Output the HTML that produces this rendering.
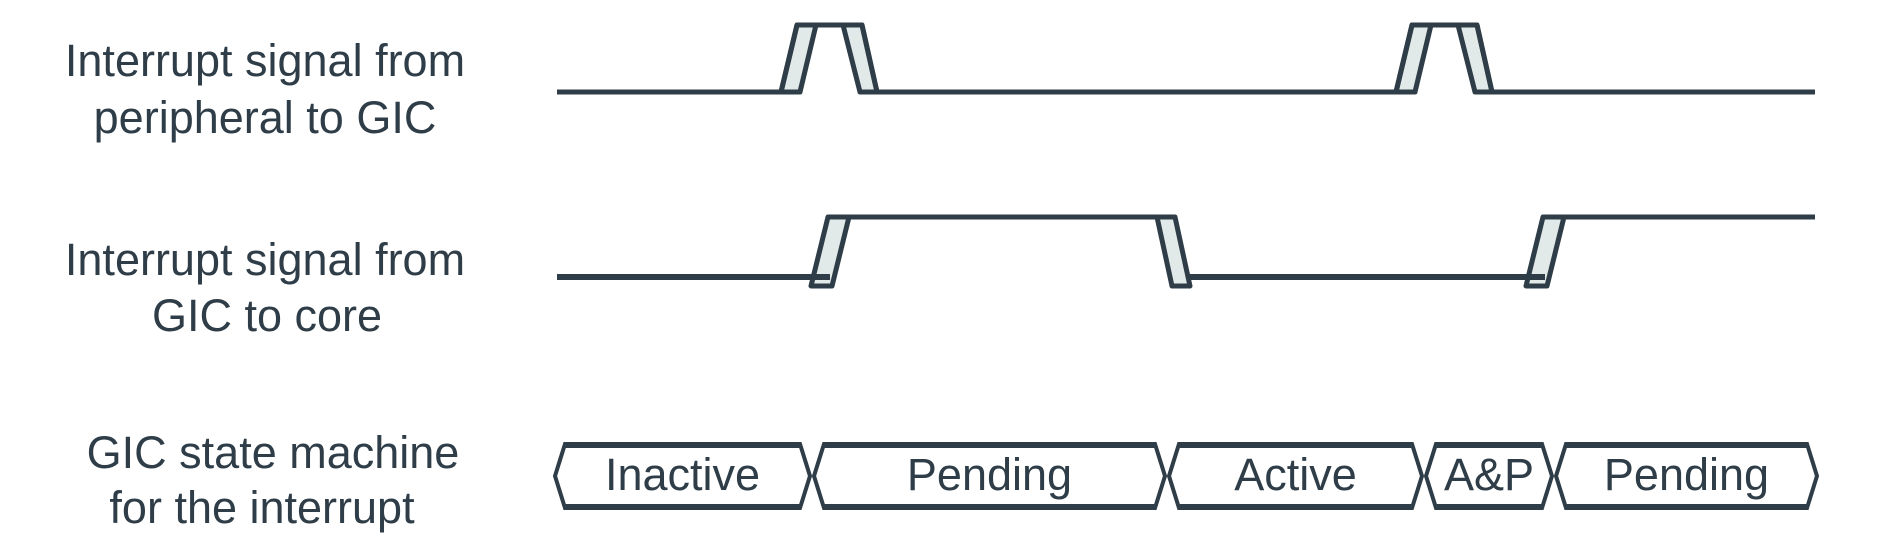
<!DOCTYPE html>
<html><head><meta charset="utf-8"><style>
html,body{margin:0;padding:0;background:#fff;}
svg{display:block;}
text{font-family:"Liberation Sans",sans-serif;fill:#2e3d47;}
</style></head><body>
<svg width="1900" height="548" viewBox="0 0 1900 548" xmlns="http://www.w3.org/2000/svg">
<g font-size="45" text-anchor="middle">
  <text x="265" y="76">Interrupt signal from</text>
  <text x="265" y="133">peripheral to GIC</text>
  <text x="265" y="275">Interrupt signal from</text>
  <text x="267" y="331">GIC to core</text>
  <text x="273" y="468">GIC state machine</text>
  <text x="262" y="523">for the interrupt</text>
</g>
<g id="waves" fill="none" stroke="#2e3d47" stroke-width="5" stroke-linejoin="round"></g>
<g id="states"></g>
</svg>
<script>
const NS="http://www.w3.org/2000/svg";
// Signal 1: pulse start times (x of rising edge bottom)
const pulseStarts=[781,1396];
// Signal 2: edge times and direction
const edgeTimes=[811,1157,1526];
const edgeDirs=["rise","fall","rise"];
// State machine boundaries and labels
const stateLabels=["Inactive","Pending","Active","A&P","Pending"];
const stateBounds=[555,812,1167,1424,1554,1819];

const waves=document.getElementById('waves');
function poly(pts,fill,name){
  const p=document.createElementNS(NS,'polygon');
  p.setAttribute('points',pts.map(a=>a.join(',')).join(' '));
  p.setAttribute('fill',fill);
  
  
  waves.appendChild(p);
}
function line(pts,name,w){
  const p=document.createElementNS(NS,'polyline');
  p.setAttribute('points',pts.map(a=>a.join(',')).join(' '));
  if(w)p.setAttribute('stroke-width',w);
  
  
  waves.appendChild(p);
}
// signal 1
const y1L=92,y1H=25,xs=557,xe=1815;
let pts=[[xs,y1L]];
pulseStarts.forEach((x,i)=>{
  pts.push([x,y1L],[x+16,y1H],[x+81,y1H],[x+96,y1L]);
  poly([[x,y1L],[x+16,y1H],[x+35,y1H],[x+19,y1L]],'#e2eae9','pulse-rise-'+i);
  poly([[x+62,y1H],[x+81,y1H],[x+96,y1L],[x+79,y1L]],'#e2eae9','pulse-fall-'+i);
});
pts.push([xe,y1L]);
line(pts,'peripheral-signal-line');
// signal 2
const y2L=277,y2H=217,y2B=286;
let lvl=y2L;pts=[[xs,lvl]];
edgeTimes.forEach((x,i)=>{
  if(edgeDirs[i]==='rise'){
    poly([[x,y2B],[x+17,y2H],[x+38,y2H],[x+21,y2B]],'#e2eae9','core-edge-rise-'+i);
    pts=[[x+38,y2H]];lvl=y2H;
  }else{
    pts.push([x,y2H]);
    line(pts,'core-signal-high-'+i);
    poly([[x,y2H],[x+18,y2H],[x+33,y2B],[x+15,y2B]],'#e2eae9','core-edge-fall-'+i);
    pts=[[x+33,y2L]];lvl=y2L;
  }
});
pts.push([xe,lvl]);
line(pts,'core-signal-tail');
(function(){
  let start=xs;
  edgeTimes.forEach((x,i)=>{
    if(edgeDirs[i]==='rise'){line([[start,y2L],[x+19,y2L]],'core-signal-low-'+i,6);}
    else start=x+33;
  });
})();
// states
const st=document.getElementById('states');
const yT=444,yB=508,yM=476,ind=10;
for(let i=0;i<stateLabels.length;i++){
  const a=stateBounds[i]+(i===0?0:2),b=stateBounds[i+1]-2;
  const g=document.createElementNS(NS,'g');
  
  
  const p=document.createElementNS(NS,'polygon');
  p.setAttribute('points',`${a},${yM} ${a+ind},${yT} ${b-ind},${yT} ${b},${yM} ${b-ind},${yB} ${a+ind},${yB}`);
  p.setAttribute('fill','#fff');p.setAttribute('stroke','#2e3d47');p.setAttribute('stroke-width','4');
  
  
  g.appendChild(p);
  const tb=document.createElementNS(NS,'path');
  tb.setAttribute('d',`M${a+ind},${yT+1} H${b-ind} M${a+ind},${yB-1} H${b-ind}`);
  tb.setAttribute('stroke','#2e3d47');tb.setAttribute('stroke-width','6');
  
  
  g.appendChild(tb);
  const t=document.createElementNS(NS,'text');
  t.setAttribute('x',(a+b)/2);t.setAttribute('y',490);
  t.setAttribute('text-anchor','middle');t.setAttribute('font-size','45');
  t.textContent=stateLabels[i];
  
  
  g.appendChild(t);
  st.appendChild(g);
}
</script>
</body></html>
